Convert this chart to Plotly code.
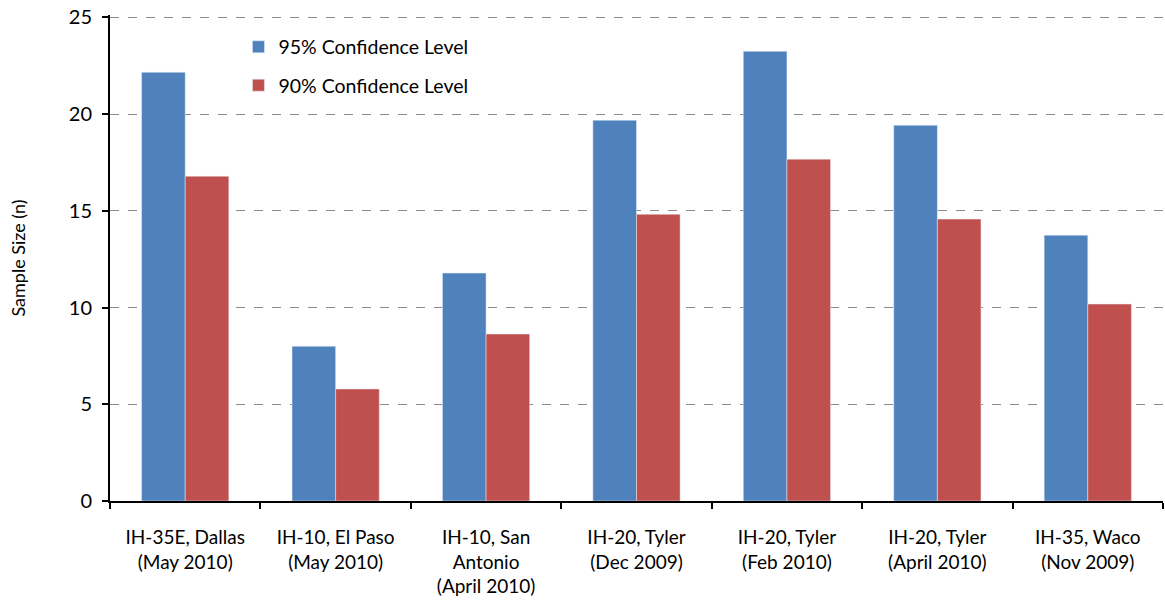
import plotly.graph_objects as go

categories = [
    "IH-35E, Dallas<br>(May 2010)",
    "IH-10, El Paso<br>(May 2010)",
    "IH-10, San<br>Antonio<br>(April 2010)",
    "IH-20, Tyler<br>(Dec 2009)",
    "IH-20, Tyler<br>(Feb 2010)",
    "IH-20, Tyler<br>(April 2010)",
    "IH-35, Waco<br>(Nov 2009)",
]
conf95 = [22.16, 8.0, 11.78, 19.68, 23.24, 19.42, 13.74]
conf90 = [16.79, 5.79, 8.63, 14.82, 17.67, 14.57, 10.18]
y_ticks = [0, 5, 10, 15, 20, 25]

FONT = "Lato, 'Open Sans', sans-serif"

fig = go.Figure()
fig.add_trace(go.Bar(x=categories, y=conf95, name="95% Confidence Level",
                     marker=dict(color="#4F81BD"), legendgroup="a"))
fig.add_trace(go.Bar(x=categories, y=conf90, name="90% Confidence Level",
                     marker=dict(color="#C0504D"), legendgroup="b"))

fig.update_layout(
    width=1165, height=602,
    margin=dict(l=110, r=2, t=15, b=101),
    paper_bgcolor="white", plot_bgcolor="white",
    barmode="group", bargap=0.42, bargroupgap=0,
    font=dict(family=FONT, size=18, color="black"),
    showlegend=True,
    legend=dict(x=0.122, y=0.974, xanchor="left", yanchor="top",
                bgcolor="rgba(0,0,0,0)", tracegroupgap=10,
                font=dict(size=19.5), itemwidth=30),
    xaxis=dict(
        showline=True, linecolor="black", linewidth=2,
        ticks="outside", tickson="boundaries", ticklen=6, tickcolor="black",
        tickwidth=1.5, showgrid=False, tickfont=dict(size=19),
        ticklabelstandoff=18, automargin=False,
    ),
    yaxis=dict(
        range=[0, 25.12], tickvals=y_ticks,
        showline=True, linecolor="black", linewidth=2,
        ticks="outside", ticklen=6, tickcolor="black", tickwidth=1.5,
        showgrid=True, gridcolor="#8c8c8c", griddash="dash", gridwidth=1,
        zeroline=False, tickfont=dict(size=20), ticklabelstandoff=6,
        ticklabeloverflow="allow", automargin=False,
        title=dict(text="Sample Size (n)", font=dict(size=18), standoff=38),
    ),
)

fig.write_html(
    "out.html",
    config={"displayModeBar": False},
    post_script="document.body.style.margin='0';document.body.style.overflow='hidden';",
)
